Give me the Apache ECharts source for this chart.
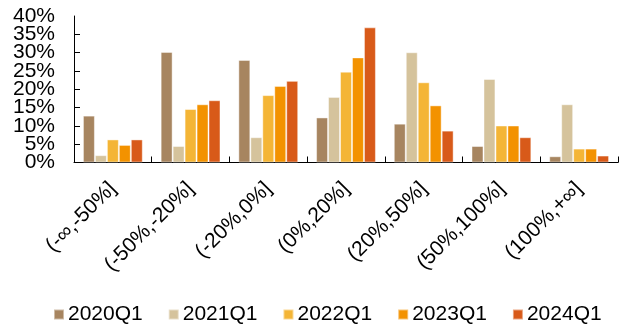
<!DOCTYPE html>
<html>
<head>
<meta charset="utf-8">
<script src="https://cdn.jsdelivr.net/npm/echarts@6/dist/echarts.min.js"></script>
<style>html,body{margin:0;padding:0;background:#fff;}#c{width:630px;height:329px;}</style>
</head>
<body>
<div id="c"></div>
<script>
const categories = ['(-∞,-50%]', '(-50%,-20%]', '(-20%,0%]', '(0%,20%]', '(20%,50%]', '(50%,100%]', '(100%,+∞]'];
const seriesNames = ['2020Q1', '2021Q1', '2022Q1', '2023Q1', '2024Q1'];
const s2020 = [12.8, 30.2, 28.0, 12.3, 10.6, 4.5, 1.7];
const s2021 = [2.0, 4.5, 6.9, 17.9, 30.1, 22.8, 15.9];
const s2022 = [6.3, 14.6, 18.4, 24.8, 21.9, 10.1, 3.8];
const s2023 = [4.8, 15.9, 20.9, 28.7, 15.6, 10.1, 3.8];
const s2024 = [6.3, 17.0, 22.3, 36.9, 8.7, 6.9, 1.9];
const colors = ['#A78560', '#D5C39C', '#F4B536', '#F39200', '#D85A19'];
const yMin = 0, yMax = 40, yStep = 5;

const allData = [s2020, s2021, s2022, s2023, s2024];
const font = 'Liberation Sans, Arial, sans-serif';
const labelBase = { margin: 19, fontSize: 21, fontFamily: font, color: '#000' };
const chart = echarts.init(document.getElementById('c'));
chart.setOption({
  animation: false,
  color: colors,
  grid: { left: 74, right: 12, top: 16, height: 146.5 },
  legend: {
    data: seriesNames,
    left: 48,
    top: 299,
    itemWidth: 10,
    itemHeight: 10,
    itemGap: 25,
    icon: 'rect',
    textStyle: { fontSize: 21, fontFamily: font, color: '#000', padding: [0, 0, 0, -1] }
  },
  xAxis: {
    type: 'category',
    data: categories,
    axisLine: { lineStyle: { color: '#000', width: 1 } },
    axisTick: { show: true, inside: true, length: 6, lineStyle: { color: '#000' } },
    axisLabel: { rotate: 45, margin: 23, fontSize: 21, fontFamily: font, color: '#000', interval: 0 },
    splitLine: { show: false }
  },
  yAxis: [{
    type: 'value',
    min: yMin, max: yMax, interval: yStep,
    axisLine: { show: true, lineStyle: { color: '#000', width: 1 } },
    axisTick: { show: true, inside: true, length: 6, lineStyle: { color: '#000' } },
    axisLabel: Object.assign({ formatter: '{value}%', showMinLabel: false, showMaxLabel: false }, labelBase),
    splitLine: { show: false }
  }, {
    type: 'value',
    position: 'left',
    min: yMin, max: yMax, interval: yStep,
    axisLine: { show: false },
    axisTick: { show: false },
    axisLabel: Object.assign({
      formatter: v => (v === yMin || v === yMax) ? v + '%' : '',
      showMinLabel: true, showMaxLabel: true
    }, labelBase),
    splitLine: { show: false }
  }],
  series: seriesNames.map((n, i) => ({
    name: n,
    type: 'bar',
    data: allData[i],
    barGap: '0%',
    barCategoryGap: '23%',
    itemStyle: { color: colors[i], borderColor: 'rgba(255,255,255,0.45)', borderWidth: 1 }
  }))
});
</script>
</body>
</html>
